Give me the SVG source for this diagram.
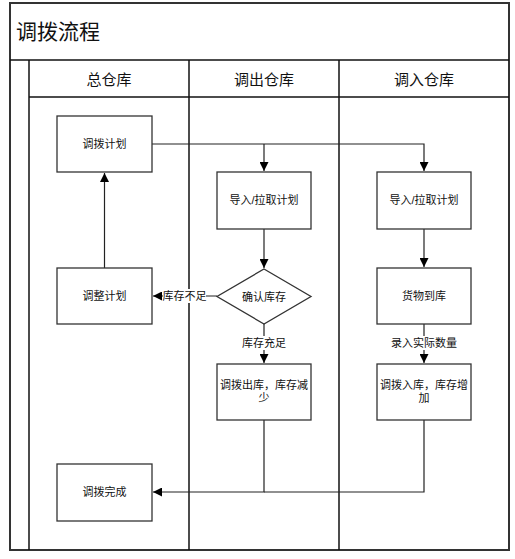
<svg xmlns="http://www.w3.org/2000/svg" width="515" height="559" viewBox="0 0 515 559">
<style>
.frame{fill:none;stroke:#333;stroke-width:2}
.lane{fill:none;stroke:#111;stroke-width:1.5}
.node{fill:#fff;stroke:#333;stroke-width:1.3}
.edge{fill:none;stroke:#222;stroke-width:1.2}
text{font-family:"Liberation Sans","Noto Sans CJK SC",sans-serif;fill:#111;text-anchor:middle;dominant-baseline:central}
.t{font-size:11px}
.h{font-size:15px}
.lbl{font-size:11px}
</style>
<defs>
<marker id="arr" viewBox="0 0 10 10" refX="10" refY="5" markerWidth="9" markerHeight="9" markerUnits="userSpaceOnUse" orient="auto">
<path d="M0,0 L10,5 L0,10 z" fill="#000"/>
</marker>
</defs>
<g id="pool">
<rect class="frame" x="10" y="3" width="499" height="547" fill="#fff"/>
<line class="lane" x1="10" y1="60" x2="509" y2="60"/>
<line class="lane" x1="29" y1="97" x2="509" y2="97"/>
<line class="lane" x1="29" y1="60" x2="29" y2="550"/>
<line class="lane" x1="189" y1="60" x2="189" y2="550"/>
<line class="lane" x1="339" y1="60" x2="339" y2="550"/>
<text x="16" y="31" style="font-size:21px;text-anchor:start">调拨流程</text>
<text class="h" x="109" y="79">总仓库</text>
<text class="h" x="264" y="79">调出仓库</text>
<text class="h" x="424" y="79">调入仓库</text>
</g>
<g id="connectors">
<polyline class="edge" points="152,144 424,144 424,171" marker-end="url(#arr)"/>
<polyline class="edge" points="264,144 264,171" marker-end="url(#arr)"/>
<polyline class="edge" points="104.5,268 104.5,173" marker-end="url(#arr)"/>
<polyline class="edge" points="264,229 264,268" marker-end="url(#arr)"/>
<polyline class="edge" points="424,229 424,267" marker-end="url(#arr)"/>
<polyline class="edge" points="217,296 153,296" marker-end="url(#arr)"/>
<polyline class="edge" points="264,324 264,363" marker-end="url(#arr)"/>
<polyline class="edge" points="424,324 424,363" marker-end="url(#arr)"/>
<polyline class="edge" points="264,420 264,492 153,492" marker-end="url(#arr)"/>
<polyline class="edge" points="424,420 424,492 264,492"/>
<rect x="163" y="289" width="43" height="14" fill="#fff"/>
<text class="lbl" x="184.5" y="296">库存不足</text>
<rect x="242" y="336" width="44" height="14" fill="#fff"/>
<text class="lbl" x="264" y="343">库存充足</text>
<rect x="391" y="336" width="66" height="14" fill="#fff"/>
<text class="lbl" x="424" y="343">录入实际数量</text>
</g>
<g id="n1"><rect class="node" x="57" y="116" width="95" height="56"/><text class="t" x="104.5" y="144">调拨计划</text></g>
<g id="n2"><rect class="node" x="57" y="268" width="95" height="56"/><text class="t" x="104.5" y="296">调整计划</text></g>
<g id="n3"><rect class="node" x="57" y="464" width="95" height="57"/><text class="t" x="104.5" y="492">调拨完成</text></g>
<g id="n4"><rect class="node" x="217" y="172" width="94" height="57"/><text class="t" x="264" y="200">导入/拉取计划</text></g>
<g id="n5"><rect class="node" x="377" y="172" width="94" height="57"/><text class="t" x="424" y="200">导入/拉取计划</text></g>
<g id="n6"><polygon class="node" points="264,269 311,296.5 264,324 217,296.5"/><text class="t" x="264" y="296.5">确认库存</text></g>
<g id="n7"><rect class="node" x="377" y="268" width="94" height="56"/><text class="t" x="424" y="296">货物到库</text></g>
<g id="n8"><rect class="node" x="217" y="364" width="94" height="56"/><text class="t" x="264" y="385">调拨出库，库存减</text><text class="t" x="264" y="398">少</text></g>
<g id="n9"><rect class="node" x="377" y="364" width="94" height="56"/><text class="t" x="424" y="385">调拨入库，库存增</text><text class="t" x="424" y="398">加</text></g>
</svg>
